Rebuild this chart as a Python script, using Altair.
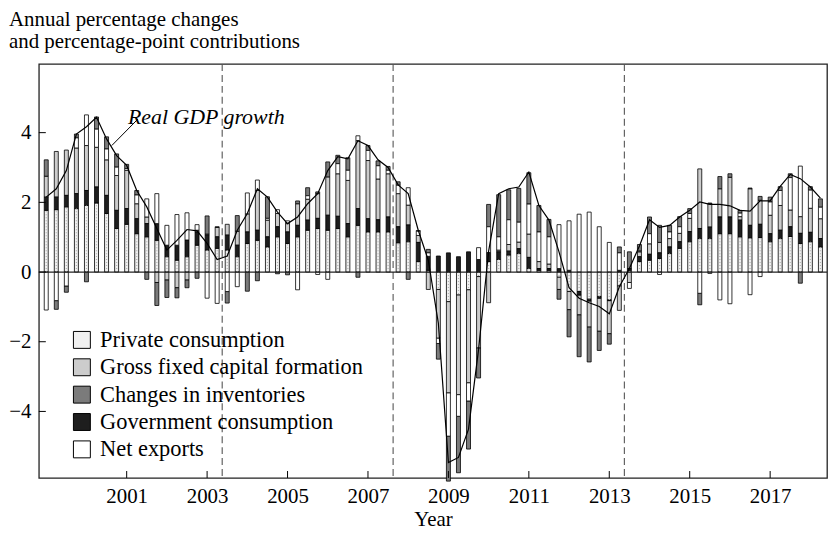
import altair as alt
import pandas as pd

# ---------------- data (quarterly, 1999Q1 - 2018Q2) ----------------
start_year = 1999
private_consumption = [1.77, 1.79, 1.87, 1.82, 1.91, 1.98, 1.68, 1.25, 1.37, 1.10, 1.01, 0.91,
                       0.44, 0.34, 0.44, 0.77, 0.63, 0.68, 0.63, 0.44, 0.82, 0.91, 0.72, 1.01,
                       0.82, 1.01, 1.20, 1.25, 1.20, 1.25, 1.01, 1.34, 1.15, 1.15, 1.15, 0.84,
                       0.87, 0.30, 0.05, -0.50, -0.85, -0.66, -0.51, -0.13, 0.30, 0.36, 0.49, 0.53,
                       0.10, 0.05, 0.05, -0.15, -0.56, -0.56, -0.78, -0.70, -0.80, -0.40, 0.05, 0.30,
                       0.34, 0.39, 0.53, 0.68, 0.87, 0.96, 0.96, 1.10, 1.10, 1.01, 0.98, 0.99,
                       0.87, 0.96, 1.02, 0.82, 0.87, 0.72]
government = [0.38, 0.36, 0.33, 0.43, 0.43, 0.46, 0.52, 0.52, 0.45, 0.43, 0.38, 0.48,
              0.33, 0.43, 0.48, 0.38, 0.43, 0.33, 0.43, 0.33, 0.33, 0.29, 0.29, 0.29,
              0.33, 0.33, 0.29, 0.29, 0.43, 0.35, 0.38, 0.48, 0.38, 0.35, 0.43, 0.46,
              0.48, 0.55, 0.40, 0.46, 0.55, 0.44, 0.58, 0.36, 0.26, 0.22, 0.11, 0.14,
              0.32, 0.05, 0.05, 0.10, 0.05, -0.10, -0.05, -0.05, -0.02, 0.05, 0.05, 0.14,
              0.17, 0.16, 0.19, 0.19, 0.29, 0.29, 0.33, 0.48, 0.48, 0.48, 0.36, 0.38,
              0.23, 0.24, 0.28, 0.29, 0.27, 0.24]
gross_fixed_capital = [0.60, 1.31, 1.30, 1.31, 1.29, 1.14, 1.02, 1.00, 1.10, 0.43, 0.19, -0.30,
                       -0.23, -0.45, -0.23, 0.05, 0.03, 0.27, 0.31, 0.40, 0.52, 1.14, 0.48, 0.38,
                       0.24, 0.62, 0.60, 0.71, 1.10, 1.22, 1.24, 1.95, 1.67, 1.17, 1.24, 0.95,
                       0.57, 0.20, -0.50, -1.40, -2.62, -2.86, -2.67, -2.05, -0.88, 0.05, 0.19, 0.19,
                       0.67, 0.20, 0.13, -0.35, -0.52, -0.57, -0.75, -0.95, -0.95, -0.70, -0.30, 0.14,
                       0.30, 0.30, 0.24, 0.24, 0.38, 1.71, 0.67, 0.81, 1.14, 0.10, 1.05, 0.69,
                       0.53, 0.71, 0.48, 0.48, 0.69, 0.57]
net_exports = [-1.09, -0.82, -0.40, 0.29, 0.88, 0.52, 0.31, 0.24, 0.05, 0.25, 0.52, 0.86,
               0.57, 0.88, 0.78, 0.16, -0.75, -0.90, -0.56, -0.42, 0.60, 0.30, 0.05, 0.11,
               0.08, -0.51, 0.10, -0.07, -0.21, 0.29, 0.29, 0.14, 0.29, 0.38, 0.10, 0.24,
               0.50, 0.12, 0.10, -0.15, -1.24, -0.62, -0.52, 0.34, 0.74, 0.38, 0.71, 0.57,
               0.86, 0.85, 0.78, 1.26, 1.42, 1.66, 1.72, 1.30, 0.85, 0.50, -0.17, 0.02,
               0.29, -0.07, 0.19, 0.19, 0.14, -0.61, -0.04, -0.80, -0.91, 0.10, -0.65, -0.13,
               0.38, 0.43, 0.93, 1.45, 0.52, 0.33]
inventories = [0.47, -0.25, -0.18, 0.11, -0.28, 0.35, 0.35, 0.38, 0.12, 0.13, -0.21, -0.66,
               -0.50, -0.29, -0.22, -0.18, 0.52, 0.02, -0.33, 0.45, -0.55, -0.25, 0.62, -0.05,
               -0.08, 0.08, 0.23, 0.05, 0.43, 0.24, 0.36, -0.15, 0.14, 0.14, 0.11, 0.10,
               -0.21, 0.02, 0.10, -0.45, -1.29, -1.62, -1.38, -0.86, 0.64, 1.21, 0.86, 0.97,
               0.90, 0.76, 0.50, -0.28, -0.78, -1.20, -1.00, -0.55, -0.30, 0.17, 0.48, 0.19,
               0.48, 0.49, 0.19, 0.29, 0.14, -0.33, 0.02, 0.35, 0.10, 0.08, 0.02, 0.11,
               0.14, 0.11, 0.11, -0.32, 0.10, 0.24]
gdp_growth = [2.15, 2.39, 2.91, 3.96, 4.17, 4.44, 3.82, 3.34, 3.06, 2.34, 1.87, 1.25,
              0.63, 0.91, 1.22, 1.18, 0.82, 0.36, 0.46, 1.20, 1.68, 2.39, 2.15, 1.72,
              1.39, 1.58, 1.96, 2.25, 2.91, 3.31, 3.25, 3.77, 3.63, 3.22, 3.00, 2.50,
              2.25, 1.20, 0.34, -1.47, -5.47, -5.32, -4.51, -2.22, 0.60, 2.25, 2.39, 2.44,
              2.87, 1.91, 1.49, 0.58, -0.45, -0.75, -0.88, -0.99, -1.20, -0.42, 0.10, 0.75,
              1.50, 1.28, 1.34, 1.58, 1.77, 2.01, 1.94, 1.94, 1.90, 1.77, 1.75, 2.04,
              2.04, 2.46, 2.80, 2.68, 2.44, 2.12]

components = ["Private consumption", "Gross fixed capital formation",
              "Changes in inventories", "Government consumption", "Net exports"]
fills = ["#f0f0f0", "#cccccc", "#7b7b7b", "#1e1e1e", "#ffffff"]
stack_rank = {"Private consumption": 0, "Government consumption": 1,
              "Gross fixed capital formation": 2, "Net exports": 3,
              "Changes in inventories": 4}
x_tick_years = [2001, 2003, 2005, 2007, 2009, 2011, 2013, 2015, 2017]
y_tick_values = [-4, -2, 0, 2, 4]
cycle_dates = [2003.375, 2007.625, 2013.375]
annotation_text = ["Real GDP growth"]
annotation_x = [2001.03]
annotation_y = [4.25]
leader_x = [2000.63, 2001.28]
leader_y = [3.63, 4.39]
title_lines = ["Annual percentage changes", "and percentage-point contributions"]

# ---------------- tables ----------------
n = len(gdp_growth)
t = [start_year + i / 4 for i in range(n)]
series = {
    "Private consumption": private_consumption,
    "Gross fixed capital formation": gross_fixed_capital,
    "Changes in inventories": inventories,
    "Government consumption": government,
    "Net exports": net_exports,
}
rows = []
for comp, vals in series.items():
    for ti, v in zip(t, vals):
        rows.append({"t": ti, "value": v, "component": comp, "rank": stack_rank[comp]})
bars_df = pd.DataFrame(rows)
pc_df = pd.DataFrame({"t": t, "lo": [0.0] * n, "value": private_consumption})
gdp_df = pd.DataFrame({"t": t, "value": gdp_growth})

FONT = "Liberation Serif"
W, H = 792, 416
xs = alt.Scale(domain=[1998.94, 2018.29], nice=False, zero=False)
ys = alt.Scale(domain=[-5.91, 5.97], nice=False, zero=False)
axis_style = dict(labelFont=FONT, labelFontSize=21, labelColor="black",
                  titleFont=FONT, titleFontSize=21, titleFontWeight="normal", titleColor="black",
                  domain=False, ticks=False, grid=False)
xaxis = alt.Axis(values=x_tick_years, format="d", title="Year", labelPadding=8, titlePadding=2,
                 **axis_style)
yaxis = alt.Axis(values=y_tick_values, format="d", title=None, labelPadding=8, **axis_style)


def X(field="t"):
    return alt.X(f"{field}:Q", scale=xs, axis=xaxis)


def Y(field="value", **kw):
    return alt.Y(f"{field}:Q", scale=ys, axis=yaxis, **kw)


cycles = alt.Chart(pd.DataFrame({"t": cycle_dates})).mark_rule(
    color="#555555", strokeWidth=1.1, strokeDash=[7, 4]
).encode(x=X())

bars = alt.Chart(bars_df).mark_bar(size=4, stroke="black", strokeWidth=0.8).encode(
    x=X(),
    y=Y(stack="zero"),
    color=alt.Color("component:N", scale=alt.Scale(domain=components, range=fills),
                    legend=alt.Legend(orient="none", legendX=32, legendY=266, title=None,
                                      symbolType="square", symbolSize=289,
                                      symbolStrokeColor="black", symbolStrokeWidth=1,
                                      symbolOpacity=1,
                                      labelFont=FONT, labelFontSize=22.5, labelColor="black",
                                      labelOffset=7, rowPadding=4.5, padding=0, offset=0,
                                      labelLimit=400)),
    order=alt.Order("rank:Q"),
)

dots = alt.Chart(pc_df).mark_rule(color="#b4b4b4", strokeWidth=1.2, strokeDash=[1, 2]).encode(
    x=X(), y=Y("lo"), y2="value:Q",
)

zero = alt.Chart(pd.DataFrame({"value": [0]})).mark_rule(color="#222222", strokeWidth=1.3).encode(
    y=Y()
)

gdp = alt.Chart(gdp_df).mark_line(color="black", strokeWidth=1.2).encode(x=X(), y=Y())

leader = alt.Chart(pd.DataFrame({"t": leader_x, "value": leader_y})).mark_line(
    color="black", strokeWidth=1
).encode(x=X(), y=Y())

label = alt.Chart(pd.DataFrame({"t": annotation_x, "value": annotation_y,
                                "txt": annotation_text})).mark_text(
    align="left", baseline="alphabetic", font=FONT, fontStyle="italic", fontSize=22, color="black"
).encode(x=X(), y=Y(), text="txt:N")

yticks = alt.Chart(pd.DataFrame({"value": y_tick_values})).mark_rule(color="black", strokeWidth=1).encode(
    y=Y(), x=alt.value(0), x2=alt.value(7)
)
xticks = alt.Chart(pd.DataFrame({"t": x_tick_years})).mark_rule(color="black", strokeWidth=1).encode(
    x=X(), y=alt.value(H), y2=alt.value(H - 7)
)

title_df = pd.DataFrame({"txt": title_lines})
title1 = alt.Chart(title_df.iloc[[0]]).mark_text(
    align="left", baseline="alphabetic", font=FONT, fontSize=21, color="black"
).encode(text="txt:N", x=alt.value(-30), y=alt.value(-38))
title2 = alt.Chart(title_df.iloc[[1]]).mark_text(
    align="left", baseline="alphabetic", font=FONT, fontSize=21, color="black"
).encode(text="txt:N", x=alt.value(-30), y=alt.value(-16))

chart = alt.layer(cycles, bars, dots, zero, gdp, leader, label, yticks, xticks,
                  title1, title2).properties(
    width=W, height=H, padding=0,
).configure_view(stroke="#222222", strokeWidth=1.3)

chart.save("out.html", embed_options={"renderer": "svg", "actions": False})
